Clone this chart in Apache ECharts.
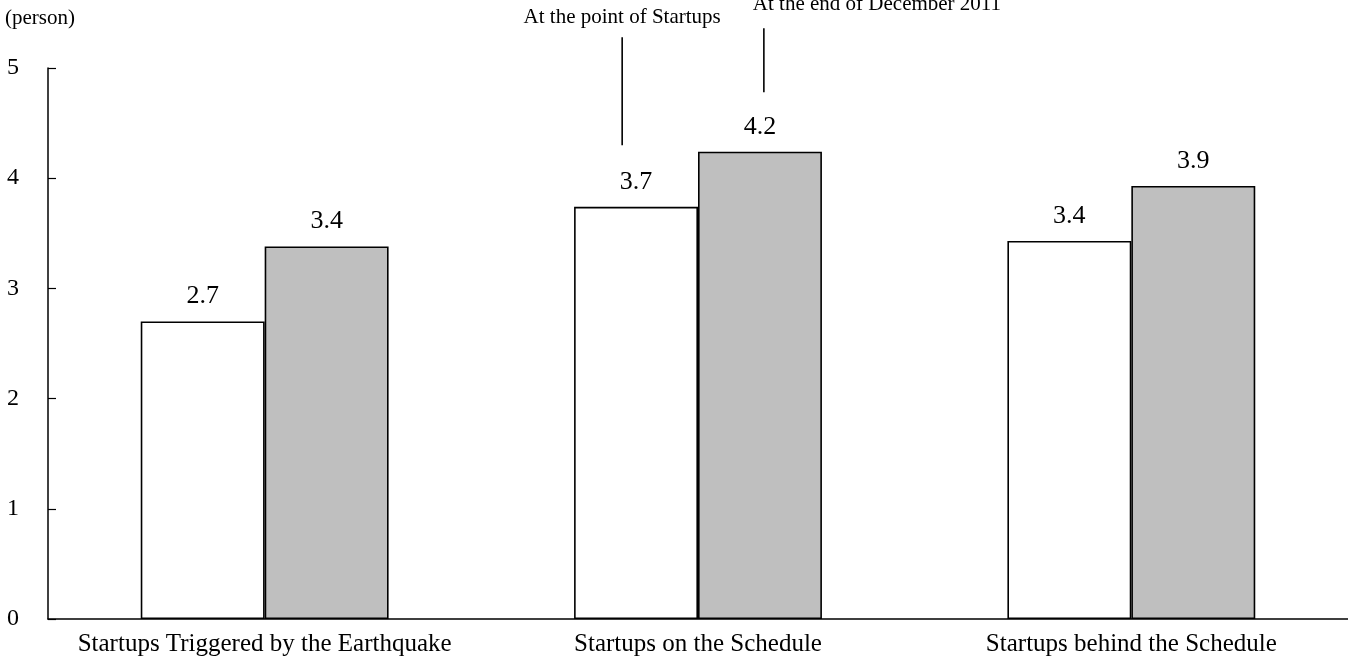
<!DOCTYPE html>
<html>
<head>
<meta charset="utf-8">
<script src="https://cdn.jsdelivr.net/npm/echarts@6/dist/echarts.min.js"></script>
<style>
  html, body { margin: 0; padding: 0; background: #fff; }
  #chart { width: 1348px; height: 668px; }
</style>
</head>
<body>
<div id="chart"></div>
<script>
// Average number of employees per startup
const categories = [
  'Startups Triggered by the Earthquake',
  'Startups on the Schedule',
  'Startups behind the Schedule'
];
const atStartup = [2.70, 3.74, 3.43];
const endDec2011 = [3.38, 4.24, 3.93];
const seriesNames = ['At the point of Startups', 'At the end of December 2011'];
const yTicks = [0, 1, 2, 3, 4, 5];
const unitLabel = '(person)';

const FONT = '"Liberation Serif", "Times New Roman", serif';

const chart = echarts.init(document.getElementById('chart'), null, { renderer: 'canvas' });

const labelStyle = {
  show: true,
  position: 'top',
  distance: 12,
  fontFamily: FONT,
  fontSize: 26,
  color: '#000',
  formatter: p => p.value.toFixed(1)
};

chart.setOption({
  animation: false,
  backgroundColor: '#fff',
  grid: { left: 48, right: -4, top: 68, bottom: 49, containLabel: false },
  xAxis: {
    type: 'category',
    data: categories,
    axisLine: { lineStyle: { color: '#000', width: 1.5 } },
    axisTick: { inside: true, length: 7, lineStyle: { color: '#000', width: 1.2 } },
    axisLabel: { interval: 0, hideOverlap: false, fontFamily: FONT, fontSize: 25, color: '#000', margin: 13 }
  },
  yAxis: {
    type: 'value',
    min: yTicks[0],
    max: yTicks[yTicks.length - 1],
    interval: 1,
    axisLine: { show: true, lineStyle: { color: '#000', width: 1.5 } },
    axisTick: { show: true, inside: true, length: 8, lineStyle: { color: '#000', width: 1.2 } },
    splitLine: { show: false },
    axisLabel: { fontFamily: FONT, fontSize: 24, color: '#000', margin: 29 }
  },
  series: [
    {
      name: seriesNames[0],
      type: 'bar',
      data: atStartup,
      barWidth: '28.6%',
      barGap: '0%',
      itemStyle: { color: '#ffffff', borderColor: '#000', borderWidth: 1.6 },
      label: labelStyle
    },
    {
      name: seriesNames[1],
      type: 'bar',
      data: endDec2011,
      barWidth: '28.6%',
      barGap: '0%',
      itemStyle: { color: '#bfbfbf', borderColor: '#000', borderWidth: 1.6 },
      label: labelStyle
    }
  ]
});

// Leader lines and captions naming the two series, anchored to the middle group
function drawCallouts() {
  const mid = 1;
  const p0 = chart.convertToPixel({ gridIndex: 0 }, [mid, 0]);
  const p1 = chart.convertToPixel({ gridIndex: 0 }, [mid + 1, 0]);
  const band = p1[0] - p0[0];
  const x1 = p0[0] - 0.175 * band;
  const x2 = p0[0] + 0.152 * band;
  const y = v => chart.convertToPixel({ gridIndex: 0 }, [mid, v])[1];

  chart.setOption({
    graphic: [
      { type: 'line', shape: { x1: x1, y1: y(5.28), x2: x1, y2: y(4.30) },
        style: { stroke: '#000', lineWidth: 1.6 } },
      { type: 'line', shape: { x1: x2, y1: y(5.36), x2: x2, y2: y(4.78) },
        style: { stroke: '#000', lineWidth: 1.6 } },
      { type: 'text', x: x1, y: y(5.46),
        style: { text: seriesNames[0], font: '21px ' + FONT, fill: '#000',
                 textAlign: 'center', textVerticalAlign: 'middle' } },
      { type: 'text', x: x2 - 11, y: y(5.575),
        style: { text: seriesNames[1], font: '21px ' + FONT, fill: '#000',
                 textAlign: 'left', textVerticalAlign: 'middle' } },
      { type: 'text', left: 5, top: 8,
        style: { text: unitLabel, font: '21px ' + FONT, fill: '#000' } }
    ]
  });
}
drawCallouts();
</script>
</body>
</html>
